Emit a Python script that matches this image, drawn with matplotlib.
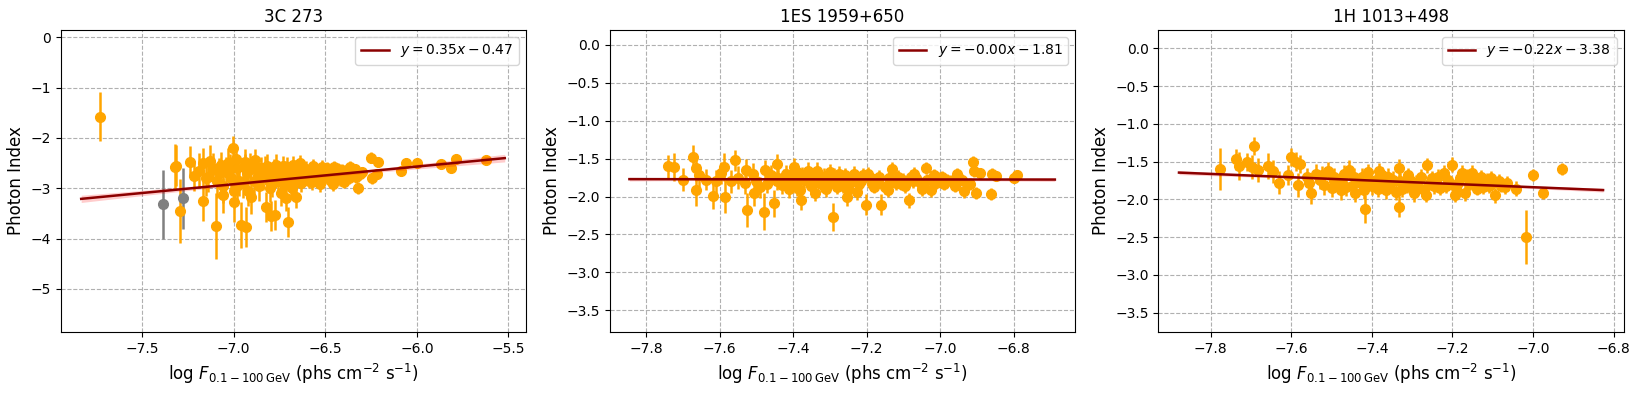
"""
Photon index vs. log flux for three blazars, with linear fits.
"""

import numpy as np
import matplotlib
matplotlib.use("Agg")
import matplotlib.pyplot as plt

# ---------------- data ----------------
titles = ["3C 273", "1ES 1959+650", "1H 1013+498"]

# 3C 273
x_3c = [-7.733, -7.323, -7.314, -7.296, -7.24, -7.218, -7.19, -7.169, -7.169, -7.15,
        -7.141, -7.13, -7.114, -7.096, -7.08, -7.068, -7.06, -7.059, -7.041, -7.03,
        -7.014, -7.005, -7.00, -6.996, -6.99, -6.98, -6.97, -6.96, -6.95, -6.941,
        -6.932, -6.93, -6.92, -6.91, -6.904, -6.89, -6.886, -6.87, -6.86, -6.85,
        -6.832, -6.822, -6.81, -6.80, -6.80, -6.795, -6.78, -6.777, -6.768, -6.76,
        -6.75, -6.74, -6.732, -6.72, -6.713, -6.704, -6.70, -6.69, -6.677, -6.67,
        -6.66, -6.65, -6.64, -6.63, -6.62, -6.604, -6.59, -6.58, -6.568, -6.55,
        -6.54, -6.53, -6.513, -6.50, -6.49, -6.47, -6.458, -6.44, -6.43, -6.42,
        -6.404, -6.39, -6.38, -6.367, -6.35, -6.322, -6.30, -6.249, -6.246, -6.22,
        -6.213, -6.085, -6.057, -6.0, -5.866, -5.815, -5.788, -5.624,
        -6.62, -6.60, -6.57, -6.52, -6.48, -6.46, -6.45, -6.41, -6.40, -6.37,
        -6.36, -6.34, -6.33, -6.31, -6.72, -6.71, -6.68, -6.66, -6.64, -7.02,
        -7.09, -6.98, -6.94, -6.88, -6.84, -6.82, -6.79, -6.77, -6.73]
y_3c = [-1.58, -2.57, -2.55, -3.45, -2.47, -2.75, -2.65, -2.50, -3.25, -2.80,
        -2.77, -2.45, -2.60, -3.75, -2.70, -2.54, -2.95, -3.14, -2.67, -2.50,
        -2.80, -2.21, -3.05, -3.27, -2.42, -2.60, -2.85, -3.73, -2.90, -2.57,
        -3.77, -2.70, -3.05, -2.55, -3.17, -2.85, -2.44, -2.75, -2.95, -2.60,
        -2.60, -3.37, -2.85, -3.00, -2.70, -3.55, -2.62, -3.53, -2.54, -2.85,
        -2.75, -3.10, -2.90, -2.65, -3.20, -3.67, -2.72, -2.95, -2.54, -2.80,
        -3.17, -2.70, -2.50, -2.90, -2.75, -2.61, -2.85, -2.70, -2.56, -2.80,
        -2.68, -2.92, -2.67, -2.78, -2.60, -2.85, -2.67, -2.75, -2.62, -2.82,
        -2.70, -2.78, -2.64, -2.57, -2.72, -2.99, -2.68, -2.39, -2.80, -2.72,
        -2.47, -2.65, -2.49, -2.49, -2.52, -2.59, -2.41, -2.44,
        -2.60, -2.75, -2.88, -2.58, -2.72, -2.92, -2.58, -2.64, -2.88, -2.80,
        -2.66, -2.62, -2.78, -2.72, -2.85, -2.58, -3.00, -2.62, -2.82, -2.62,
        -2.85, -2.95, -2.48, -2.62, -2.78, -2.55, -2.92, -2.70, -2.55]
e_3c = [0.49, 0.45, 0.40, 0.64, 0.30, 0.30, 0.35, 0.30, 0.40, 0.35,
        0.30, 0.30, 0.30, 0.65, 0.30, 0.25, 0.35, 0.35, 0.30, 0.30,
        0.30, 0.25, 0.35, 0.40, 0.25, 0.25, 0.30, 0.45, 0.30, 0.25,
        0.40, 0.25, 0.30, 0.25, 0.35, 0.28, 0.22, 0.25, 0.30, 0.22,
        0.25, 0.30, 0.25, 0.28, 0.22, 0.30, 0.20, 0.30, 0.22, 0.22,
        0.20, 0.25, 0.22, 0.20, 0.25, 0.30, 0.20, 0.20, 0.18, 0.18,
        0.22, 0.18, 0.16, 0.18, 0.16, 0.16, 0.15, 0.15, 0.15, 0.15,
        0.14, 0.15, 0.14, 0.14, 0.13, 0.14, 0.13, 0.13, 0.12, 0.13,
        0.12, 0.12, 0.12, 0.12, 0.11, 0.12, 0.11, 0.10, 0.11, 0.10,
        0.10, 0.10, 0.09, 0.09, 0.09, 0.09, 0.08, 0.08,
        0.15, 0.15, 0.15, 0.14, 0.13, 0.14, 0.13, 0.12, 0.12, 0.12,
        0.11, 0.11, 0.11, 0.11, 0.20, 0.20, 0.20, 0.18, 0.18, 0.30,
        0.35, 0.30, 0.25, 0.25, 0.25, 0.22, 0.25, 0.20, 0.20]
# excluded (grey) points of 3C 273
x_3c_excl = [-7.387, -7.278]
y_3c_excl = [-3.32, -3.20]
e_3c_excl = [0.69, 0.61]

# 1ES 1959+650
x_1es = [-7.741, -7.725, -7.70, -7.673, -7.665, -7.665, -7.656, -7.638, -7.618, -7.61,
         -7.596, -7.588, -7.584, -7.57, -7.559, -7.55, -7.53, -7.527, -7.525, -7.51,
         -7.507, -7.50, -7.49, -7.48, -7.475, -7.47, -7.46, -7.452, -7.445, -7.44,
         -7.43, -7.42, -7.415, -7.41, -7.40, -7.397, -7.39, -7.388, -7.38, -7.379,
         -7.37, -7.36, -7.35, -7.343, -7.34, -7.33, -7.325, -7.32, -7.31, -7.30,
         -7.291, -7.289, -7.28, -7.27, -7.26, -7.252, -7.25, -7.24, -7.234, -7.225,
         -7.22, -7.21, -7.201, -7.188, -7.179, -7.17, -7.161, -7.15, -7.143, -7.14,
         -7.13, -7.12, -7.107, -7.10, -7.084, -7.08, -7.07, -7.06, -7.05, -7.043,
         -7.039, -7.025, -7.02, -7.016, -7.00, -6.989, -6.98, -6.96, -6.954, -6.94,
         -6.934, -6.92, -6.911, -6.907, -6.902, -6.891, -6.862, -6.86, -6.848, -6.80,
         -6.79,
         -7.445, -7.425, -7.405, -7.395, -7.375, -7.355, -7.345, -7.335, -7.315, -7.305,
         -7.295, -7.275, -7.265, -7.245, -7.23, -7.215, -7.195, -7.185, -7.165, -7.135,
         -7.115, -7.095, -7.075, -7.065, -7.035, -7.01, -6.995, -6.97]
y_1es = [-1.60, -1.61, -1.78, -1.48, -1.63, -1.92, -1.72, -1.78, -1.99, -1.80,
         -1.69, -1.61, -2.00, -1.80, -1.52, -1.75, -1.82, -1.65, -2.18, -1.70,
         -1.96, -1.80, -1.88, -2.20, -1.65, -1.83, -1.72, -2.09, -1.57, -1.75,
         -1.85, -1.70, -1.78, -1.90, -1.80, -1.61, -1.68, -1.87, -1.92, -2.05,
         -1.78, -1.66, -1.86, -1.74, -1.95, -1.72, -1.83, -1.80, -1.90, -1.68,
         -2.27, -1.74, -1.87, -1.80, -1.72, -2.00, -1.90, -1.78, -1.70, -1.94,
         -1.84, -1.72, -2.11, -1.76, -1.87, -1.80, -2.11, -1.88, -1.92, -1.75,
         -1.64, -1.82, -1.83, -1.78, -2.05, -1.74, -1.70, -1.80, -1.90, -1.87,
         -1.62, -1.92, -1.80, -1.72, -1.76, -1.83, -1.78, -1.86, -1.70, -1.78,
         -1.93, -1.83, -1.55, -1.67, -1.95, -1.69, -1.97, -1.70, -1.73, -1.76,
         -1.72,
         -1.80, -1.76, -1.72, -1.84, -1.72, -1.78, -1.84, -1.66, -1.74, -1.84,
         -1.76, -1.70, -1.86, -1.82, -1.76, -1.80, -1.70, -1.83, -1.74, -1.80,
         -1.74, -1.86, -1.80, -1.75, -1.78, -1.82, -1.74, -1.80]
e_1es = [0.15, 0.18, 0.15, 0.16, 0.17, 0.20, 0.15, 0.14, 0.18, 0.15,
         0.14, 0.18, 0.22, 0.15, 0.14, 0.15, 0.15, 0.14, 0.22, 0.14,
         0.16, 0.14, 0.14, 0.24, 0.13, 0.13, 0.13, 0.18, 0.13, 0.12,
         0.12, 0.12, 0.12, 0.12, 0.12, 0.12, 0.12, 0.12, 0.12, 0.13,
         0.11, 0.11, 0.11, 0.11, 0.11, 0.11, 0.11, 0.11, 0.11, 0.11,
         0.18, 0.11, 0.10, 0.10, 0.10, 0.12, 0.10, 0.10, 0.10, 0.10,
         0.10, 0.10, 0.14, 0.09, 0.09, 0.09, 0.14, 0.09, 0.09, 0.09,
         0.09, 0.09, 0.09, 0.09, 0.10, 0.09, 0.09, 0.09, 0.09, 0.08,
         0.08, 0.09, 0.08, 0.08, 0.08, 0.08, 0.08, 0.08, 0.08, 0.08,
         0.09, 0.08, 0.08, 0.07, 0.08, 0.07, 0.08, 0.07, 0.07, 0.06,
         0.06,
         0.12, 0.12, 0.12, 0.12, 0.11, 0.11, 0.11, 0.11, 0.11, 0.11,
         0.11, 0.10, 0.10, 0.10, 0.10, 0.10, 0.09, 0.09, 0.09, 0.09,
         0.09, 0.09, 0.09, 0.09, 0.08, 0.08, 0.08, 0.08]

# 1H 1013+498
x_1h = [-7.777, -7.738, -7.73, -7.71, -7.698, -7.692, -7.682, -7.657, -7.646, -7.631,
        -7.608, -7.601, -7.588, -7.584, -7.578, -7.56, -7.551, -7.539, -7.53, -7.518,
        -7.51, -7.50, -7.493, -7.48, -7.476, -7.47, -7.458, -7.45, -7.441, -7.43,
        -7.424, -7.42, -7.416, -7.41, -7.399, -7.39, -7.382, -7.37, -7.364, -7.36,
        -7.347, -7.34, -7.332, -7.332, -7.33, -7.313, -7.31, -7.30, -7.296, -7.29,
        -7.279, -7.27, -7.266, -7.262, -7.25, -7.245, -7.24, -7.232, -7.222, -7.21,
        -7.202, -7.194, -7.19, -7.18, -7.177, -7.168, -7.16, -7.151, -7.151, -7.14,
        -7.13, -7.115, -7.11, -7.10, -7.094, -7.08, -7.064, -7.043, -7.017, -6.999,
        -6.974, -6.927,
        -7.555, -7.525, -7.495, -7.465, -7.445, -7.425, -7.405, -7.385, -7.375, -7.355,
        -7.325, -7.305, -7.285, -7.255, -7.235, -7.215, -7.185, -7.165, -7.145, -7.125,
        -7.105, -7.085, -7.07]
y_1h = [-1.60, -1.47, -1.56, -1.51, -1.57, -1.30, -1.61, -1.56, -1.63, -1.78,
        -1.68, -1.44, -1.50, -1.81, -1.53, -1.70, -1.92, -1.66, -1.75, -1.81,
        -1.62, -1.85, -1.70, -1.78, -1.88, -1.66, -1.61, -1.82, -1.92, -1.77,
        -1.70, -1.88, -2.13, -1.64, -1.83, -1.75, -1.63, -1.82, -1.88, -1.70,
        -1.74, -1.90, -1.58, -2.10, -1.76, -1.81, -1.68, -1.85, -1.92, -1.78,
        -1.70, -1.88, -1.94, -1.55, -1.72, -1.83, -1.80, -1.85, -1.65, -1.75,
        -1.54, -1.94, -1.85, -1.72, -1.65, -1.92, -1.80, -1.65, -1.79, -1.86,
        -1.70, -1.74, -1.83, -1.78, -1.95, -1.82, -1.79, -1.86, -2.50, -1.68,
        -1.92, -1.60,
        -1.78, -1.68, -1.76, -1.84, -1.70, -1.80, -1.76, -1.86, -1.68, -1.80,
        -1.86, -1.74, -1.84, -1.78, -1.70, -1.82, -1.78, -1.70, -1.78, -1.84,
        -1.72, -1.76, -1.84]
e_1h = [0.28, 0.14, 0.18, 0.12, 0.16, 0.12, 0.16, 0.17, 0.15, 0.15,
        0.13, 0.12, 0.13, 0.16, 0.12, 0.12, 0.14, 0.13, 0.12, 0.14,
        0.12, 0.12, 0.12, 0.12, 0.13, 0.12, 0.13, 0.11, 0.12, 0.11,
        0.11, 0.11, 0.18, 0.11, 0.11, 0.11, 0.11, 0.11, 0.11, 0.11,
        0.11, 0.11, 0.12, 0.14, 0.11, 0.11, 0.10, 0.10, 0.11, 0.10,
        0.10, 0.10, 0.10, 0.10, 0.10, 0.10, 0.10, 0.10, 0.10, 0.10,
        0.10, 0.10, 0.10, 0.10, 0.10, 0.10, 0.09, 0.10, 0.09, 0.09,
        0.09, 0.09, 0.09, 0.09, 0.10, 0.09, 0.10, 0.10, 0.36, 0.08,
        0.08, 0.08,
        0.12, 0.12, 0.12, 0.12, 0.11, 0.11, 0.11, 0.11, 0.11, 0.11,
        0.11, 0.10, 0.10, 0.10, 0.10, 0.10, 0.10, 0.10, 0.09, 0.09,
        0.09, 0.09, 0.09]

# fit parameters (slope, intercept) shown in the legends, and the x span of each fit line
slopes = [0.35, -0.00, -0.22]
intercepts = [-0.47, -1.81, -3.38]
fit_slopes_exact = [0.35, -0.005, -0.22]
fit_spans = [(-7.833, -5.52), (-7.845, -6.688), (-7.879, -6.826)]
n_fit = 900

xlims = [(-7.945, -5.405), (-7.899, -6.634), (-7.93, -6.775)]
ylims = [(-5.86, 0.145), (-3.79, 0.198), (-3.76, 0.243)]

# ---------------- plot ----------------
fig, axes = plt.subplots(1, 3, figsize=(16.4, 3.94), dpi=100)
fig.subplots_adjust(left=0.037, right=0.99, bottom=0.157, top=0.924, wspace=0.18)

panels = [(x_3c, y_3c, e_3c), (x_1es, y_1es, e_1es), (x_1h, y_1h, e_1h)]

for i, ax in enumerate(axes):
    x, y, e = (np.array(v) for v in panels[i])

    ax.errorbar(x, y, yerr=e, fmt='o', color='orange', ecolor='orange',
                markersize=7, elinewidth=1.8, capsize=0, zorder=2)
    if i == 0:
        ax.errorbar(x_3c_excl, y_3c_excl, yerr=e_3c_excl, fmt='o', color='grey',
                    ecolor='grey', markersize=7, elinewidth=1.8, capsize=0, zorder=2)

    # fit line with its (thin) confidence band
    xs = np.linspace(fit_spans[i][0], fit_spans[i][1], 100)
    ys = fit_slopes_exact[i] * xs + intercepts[i]
    resid = y - (fit_slopes_exact[i] * x + intercepts[i])
    s = np.sqrt(np.sum(resid ** 2) / (len(x) - 2))
    se = s * np.sqrt(1.0 / n_fit + (xs - x.mean()) ** 2 / (np.var(x) * n_fit))
    ax.fill_between(xs, ys - 1.96 * se, ys + 1.96 * se, color='red', alpha=0.2,
                    linewidth=0, zorder=3)
    sign = '-' if intercepts[i] < 0 else '+'
    label = rf'$y = {slopes[i]:.2f}x {sign} {abs(intercepts[i]):.2f}$'
    if slopes[i] == 0:
        label = rf'$y = -{abs(slopes[i]):.2f}x {sign} {abs(intercepts[i]):.2f}$'
    ax.plot(xs, ys, color='darkred', linewidth=1.8, label=label, zorder=4)

    ax.set_xlim(*xlims[i])
    ax.set_ylim(*ylims[i])
    ax.set_title(titles[i], fontsize=12)
    ax.set_ylabel('Photon Index', fontsize=12)
    ax.set_xlabel(r'$\log\,F_{0.1-100\,\mathrm{GeV}}$ (phs cm$^{-2}$ s$^{-1}$)', fontsize=12)
    ax.grid(True, linestyle='--', color='#b0b0b0')
    ax.legend(loc='upper right', fontsize=10)

fig.savefig('out.png', dpi=100)
